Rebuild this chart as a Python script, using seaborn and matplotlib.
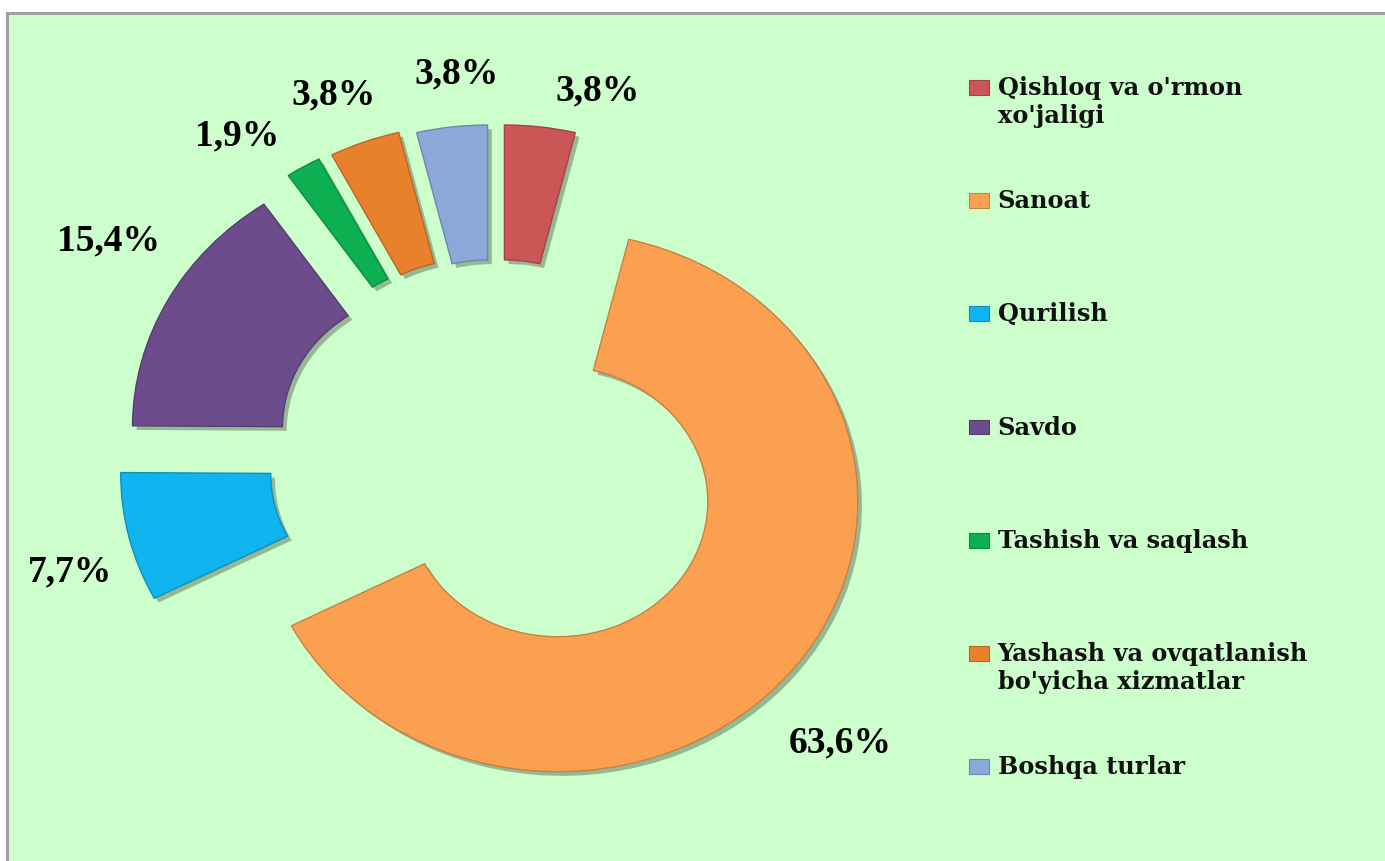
import numpy as np
import pandas as pd
import seaborn as sns
import matplotlib
matplotlib.use("Agg")
import matplotlib.pyplot as plt
from matplotlib.patches import Rectangle
from matplotlib.legend_handler import HandlerPatch
import matplotlib.patheffects as pe
from matplotlib.colors import to_rgb

# ---------------- data ----------------
categories = ["Qishloq va o'rmon\nxo'jaligi", "Sanoat", "Qurilish", "Savdo",
              "Tashish va saqlash", "Yashash va ovqatlanish\nbo'yicha xizmatlar",
              "Boshqa turlar"]
shares = [3.8, 63.6, 7.7, 15.4, 1.9, 3.8, 3.8]

# ---------------- style ----------------
colors = ["#CC5555", "#FBA050", "#10B4EE", "#6C4C8C", "#0DB050", "#E8802C", "#8CA8D8"]
explode = [0.235, 0.262, 0.258, 0.24, 0.255, 0.25, 0.235]
label_radius = [1.40, 1.56, 1.48, 1.52, 1.47, 1.45, 1.43]
label_turn = [7.2, 4.5, -3.0, 3.8, -5.1, -1.4, 1.6]

sns.set_theme(style="white")
plt.rcParams['font.family'] = ['Liberation Serif', 'DejaVu Serif']

W, H = 1385, 861
fig = plt.figure(figsize=(W / 100, H / 100), dpi=100)
fig.patch.set_facecolor('white')
bg = Rectangle((6.5 / W, -0.05), 1.2, 1 - 13.5 / H + 0.05, transform=fig.transFigure,
               facecolor='#CCFFCC', edgecolor='#A0A0A0', lw=2.2, zorder=-10)
fig.patches.append(bg)

ax = fig.add_axes([0, 0, 1, 1])
ax.patch.set_alpha(0)

palette = sns.color_palette(colors)


def darker(c, f=0.72):
    r, g, b = to_rgb(c)
    return (r * f, g * f, b * f)


wedges, texts, autotexts = ax.pie(
    shares, explode=explode, colors=palette, startangle=90, counterclock=False,
    radius=1.0, wedgeprops=dict(width=0.5, linewidth=1.0),
    autopct=lambda p: f"{p:.1f}%".replace('.', ','), pctdistance=1.22,
    textprops=dict(fontsize=27, fontweight='bold', color='black'))

for w, c in zip(wedges, palette):
    w.set_edgecolor(darker(c, 0.8))
    w.set_path_effects([
        pe.SimplePatchShadow(offset=(3, -3), shadow_rgbFace='black', alpha=0.28),
        pe.Normal()])

# place percentage labels around each slice
total = sum(shares)
cum = 0.0
for i, (t, s) in enumerate(zip(autotexts, shares)):
    mid = (cum + s / 2) / total * 360.0
    cum += s
    phi = np.deg2rad(mid + label_turn[i])
    t.set_position((label_radius[i] * np.sin(phi), label_radius[i] * np.cos(phi)))
    t.set_ha('center')
    t.set_va('center')

# stretched layout (chart is wider than tall)
sx, sy = 300.0, 270.0
cx, cy = 496.0, 458.0
ax.set_aspect('auto')
ax.set_xlim(-cx / sx, (W - cx) / sx)
ax.set_ylim(-(H - cy) / sy, cy / sy)
ax.axis('off')

# ---------------- legend ----------------
handles = [Rectangle((0, 0), 1, 1, facecolor=c, edgecolor=darker(c, 0.8), lw=0.8) for c in palette]
leg_labels = [c if "\n" in c else c + "\n" for c in categories]
key_lift = 0.70


def key_patch(legend, orig_handle, xdescent, ydescent, width, height, fontsize):
    return Rectangle((-xdescent, -ydescent + key_lift * fontsize), width, 0.62 * fontsize)


leg = fig.legend(handles, leg_labels, loc='upper left', bbox_to_anchor=(969 / W, 1 - 76 / H),
                 frameon=False, borderpad=0, borderaxespad=0,
                 prop=dict(family='DejaVu Serif', weight='bold', size=17.3),
                 handlelength=0.85, handletextpad=0.34, labelspacing=2.54,
                 handler_map={Rectangle: HandlerPatch(patch_func=key_patch)})
for t in leg.get_texts():
    t.set_linespacing(1.22)
    t.set_color('#111111')

fig.savefig("out.png", dpi=100, facecolor=fig.get_facecolor())
